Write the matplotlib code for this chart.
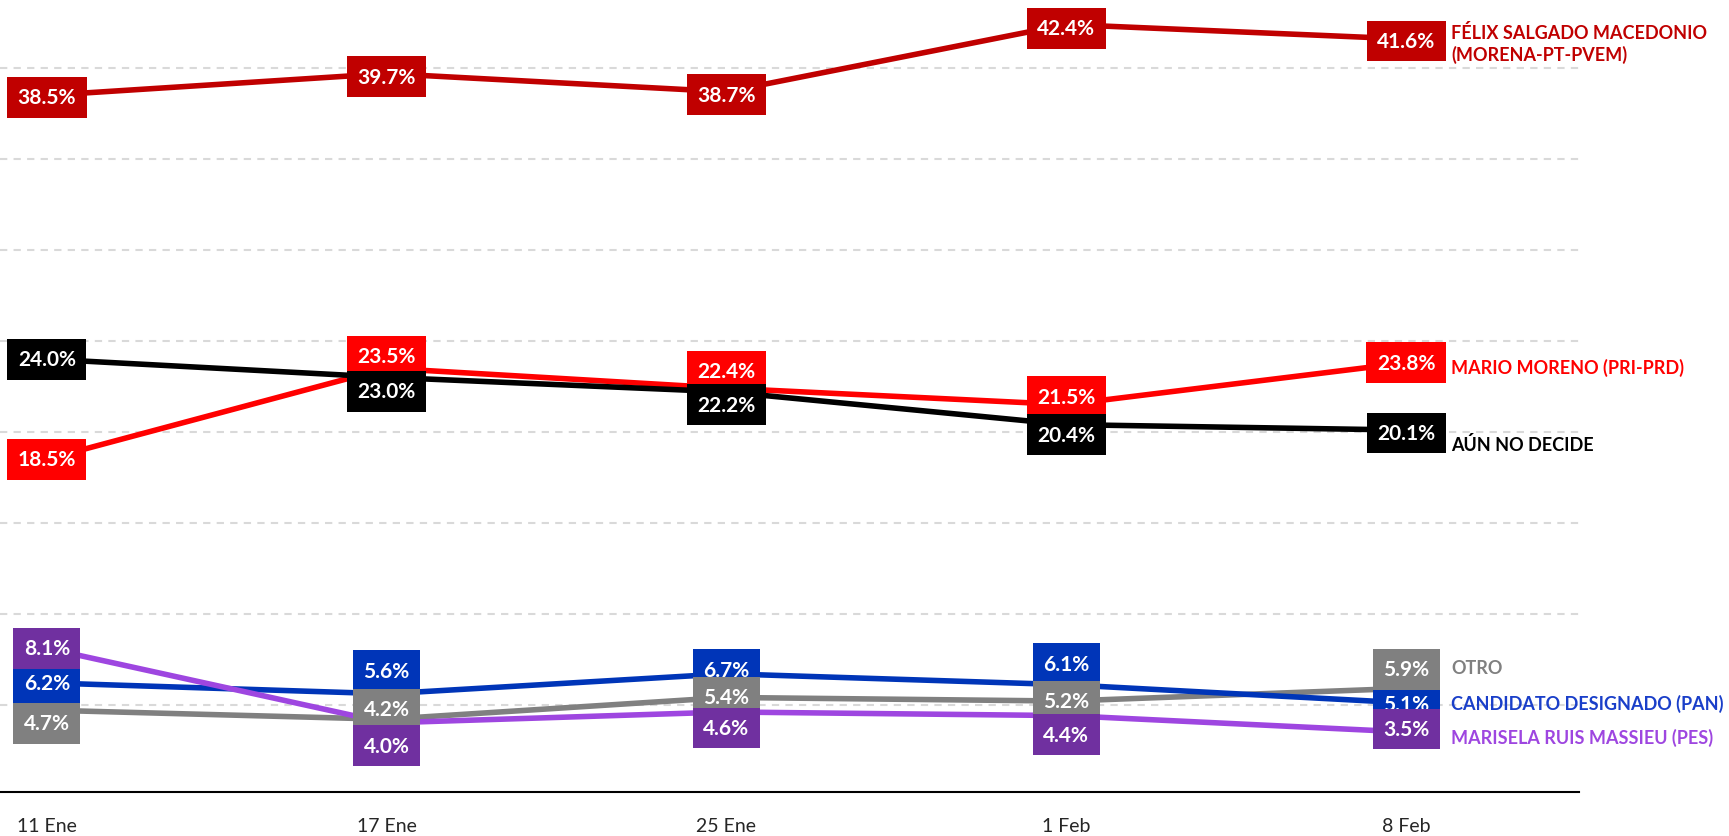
import matplotlib.pyplot as plt
import numpy as np

plt.rcParams['font.family'] = ['Lato', 'DejaVu Sans']

# Datos
fechas = ['11 Ene', '17 Ene', '25 Ene', '1 Feb', '8 Feb']
felix = [38.5, 39.7, 38.7, 42.4, 41.6]
mario = [18.5, 23.5, 22.4, 21.5, 23.8]
aun_no = [24.0, 23.0, 22.2, 20.4, 20.1]
otro = [4.7, 4.2, 5.4, 5.2, 5.9]
candidato = [6.2, 5.6, 6.7, 6.1, 5.1]
marisela = [8.1, 4.0, 4.6, 4.4, 3.5]

nombres = ['FÉLIX SALGADO MACEDONIO\n(MORENA-PT-PVEM)', 'MARIO MORENO (PRI-PRD)',
           'AÚN NO DECIDE', 'OTRO', 'CANDIDATO DESIGNADO (PAN)',
           'MARISELA RUIS MASSIEU (PES)']

# Estilos: color de linea, color de caja, color de nombre
series = [felix, mario, aun_no, otro, candidato, marisela]
col_linea = ['#C00000', '#FF0000', '#000000', '#808080', '#0035B8', '#9E46E0']
col_caja = ['#C00000', '#FF0000', '#000000', '#808080', '#0035B8', '#7030A0']
col_nombre = ['#C00000', '#FF0000', '#000000', '#808080', '#1A3FC9', '#9E46E0']
# desplazamiento vertical de las etiquetas (px, positivo = abajo)
desp = [[2, 3, 3, 4, 2],
        [0, -12, -17, -8, 0],
        [0, 14, 13, 10, 3],
        [13, -10, 0, 0, -19],
        [0, -23, -4, -21, 1],
        [0, 23, 16, 19, -3]]
desp_nombre = [4, 4, 14, -21, 0, 5]
orden = [5, 5, 6, 8, 7, 9]

px = 0.72  # puntos por pixel a dpi 100

fig = plt.figure(figsize=(17.29, 8.37), dpi=100)
ax = fig.add_axes([0, 44 / 837, 1579 / 1729, 793 / 837])
x = np.arange(len(fechas))

for s, vals in enumerate(series):
    ax.plot(x, vals, '-', linewidth=4, color=col_linea[s], zorder=3, solid_capstyle='butt')
    for i, v in enumerate(vals):
        ax.annotate('{:.1f}%'.format(v), (x[i], v), xytext=(0, -desp[s][i] * px),
                    textcoords='offset points', ha='center', va='center',
                    fontsize=15, fontweight='bold', color='white', zorder=orden[s],
                    bbox=dict(boxstyle='square,pad=0.5', fc=col_caja[s], ec='none'))
    ax.annotate(nombres[s], (x[-1], vals[-1]), xytext=(45 * px, -desp_nombre[s] * px),
                textcoords='offset points', ha='left', va='center', fontsize=13,
                fontweight='bold', color=col_nombre[s], linespacing=1.2,
                annotation_clip=False)

ax.set_xlim(-0.138, 4.509)
ax.set_ylim(0.2, 43.8)
ax.set_yticks(np.arange(5, 45, 5))
ax.yaxis.grid(True, color='#D9D9D9', linestyle=(0, (3.5, 3)), linewidth=1.5)
ax.set_axisbelow(True)
ax.set_xticks(x)
ax.set_xticklabels(fechas, fontsize=14, color='#262626')
ax.tick_params(axis='x', length=0, pad=18)
ax.tick_params(axis='y', left=False, labelleft=False)
for lado in ['top', 'right', 'left']:
    ax.spines[lado].set_visible(False)
ax.spines['bottom'].set_linewidth(1.5)
ax.spines['bottom'].set_color('black')

plt.savefig('out.png', dpi=100)
